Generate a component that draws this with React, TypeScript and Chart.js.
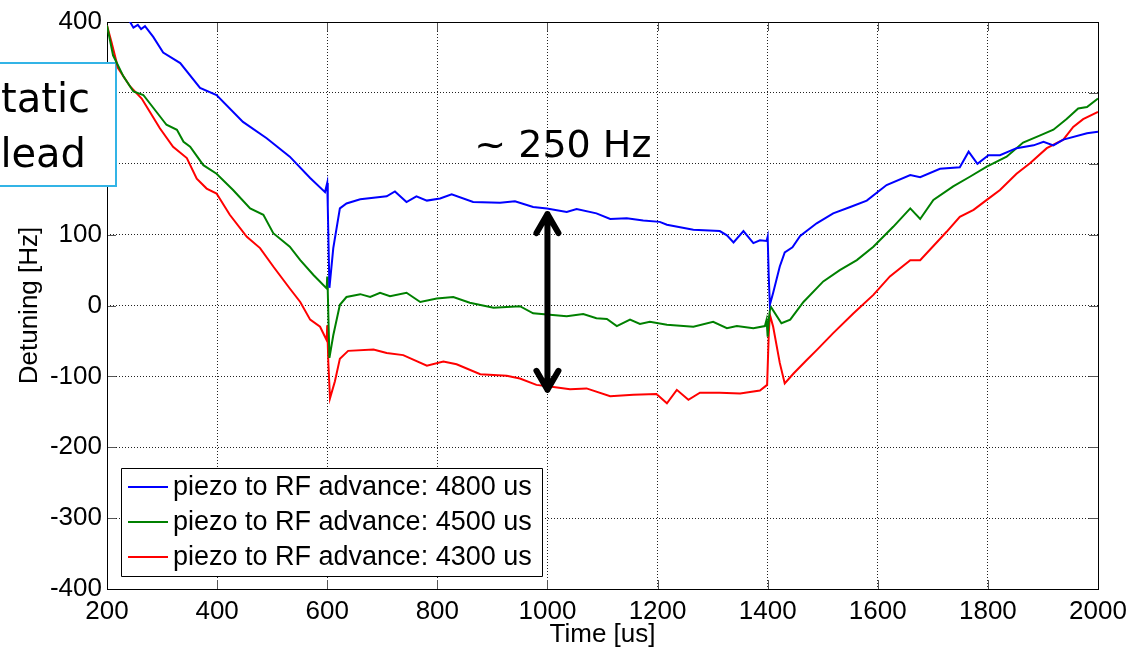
import React, { useEffect, useRef } from 'react';
import { Chart, registerables } from 'chart.js';

Chart.register(...registerables);

// ---- Data ----
const blueTime = [225, 242, 248, 256, 262, 269, 284, 302, 333, 369, 399, 447, 490, 532, 569, 596, 600, 601, 604, 611, 623, 635, 660, 708, 723, 744, 762, 781, 805, 826, 865, 914, 941, 974, 999, 1035, 1053, 1089, 1114, 1144, 1174, 1204, 1217, 1265, 1313, 1326, 1338, 1356, 1374, 1386, 1398, 1400, 1402, 1404, 1410, 1422, 1431, 1445, 1459, 1489, 1519, 1550, 1580, 1616, 1659, 1677, 1713, 1749, 1765, 1781, 1801, 1822, 1852, 1883, 1901, 1919, 1937, 1980, 2000];
const blueDetuning = [430, 400, 392, 396, 390, 394, 379, 357, 342, 307, 297, 259, 236, 210, 180, 160, 173, 140, 25, 81, 137, 144, 150, 154, 161, 146, 154, 148, 151, 157, 146, 145, 147, 139, 137, 132, 136, 130, 122, 123, 120, 118, 114, 107, 105, 99, 89, 105, 88, 92, 91, 97, 40, 1, 18, 55, 75, 82, 98, 116, 130, 139, 148, 170, 184, 181, 193, 195, 217, 200, 212, 212, 222, 226, 231, 226, 234, 243, 245];

const greenTime = [200, 211, 230, 248, 266, 290, 308, 327, 339, 351, 375, 399, 429, 460, 484, 502, 532, 551, 575, 599, 600, 601, 604, 611, 623, 635, 660, 678, 696, 714, 744, 769, 799, 829, 859, 902, 950, 974, 1035, 1065, 1089, 1108, 1126, 1150, 1168, 1186, 1217, 1265, 1301, 1326, 1344, 1374, 1395, 1398, 1400, 1402, 1405, 1425, 1441, 1465, 1501, 1531, 1562, 1592, 1628, 1659, 1677, 1701, 1737, 1768, 1798, 1834, 1864, 1895, 1919, 1943, 1964, 1980, 2000];
const greenDetuning = [395, 353, 323, 302, 297, 273, 255, 248, 231, 224, 198, 186, 163, 137, 128, 102, 83, 64, 43, 24, 41, 20, -74, -42, 1, 12, 16, 12, 18, 13, 18, 5, 10, 12, 4, -3, -1, -11, -15, -12, -18, -19, -29, -20, -26, -23, -27, -30, -23, -32, -29, -32, -29, -20, -44, -20, -1, -25, -20, 5, 34, 50, 64, 83, 111, 137, 122, 149, 168, 182, 196, 210, 230, 240, 248, 263, 278, 280, 292];

const redTime = [200, 208, 220, 242, 263, 278, 296, 320, 345, 363, 381, 399, 423, 454, 478, 502, 532, 551, 569, 587, 599, 600, 602, 605, 614, 623, 638, 684, 708, 738, 781, 811, 835, 878, 926, 950, 980, 1011, 1041, 1071, 1114, 1156, 1198, 1217, 1235, 1256, 1277, 1313, 1350, 1368, 1386, 1399, 1402, 1404, 1410, 1422, 1431, 1447, 1471, 1489, 1519, 1556, 1592, 1622, 1659, 1677, 1725, 1749, 1774, 1798, 1822, 1852, 1877, 1907, 1937, 1955, 1973, 2000];
const redDetuning = [395, 372, 335, 309, 292, 273, 250, 224, 208, 179, 165, 158, 128, 97, 81, 55, 24, 5, -20, -30, -49, -28, -80, -131, -107, -75, -64, -62, -67, -70, -85, -79, -83, -97, -99, -103, -112, -115, -118, -117, -128, -126, -125, -138, -119, -133, -123, -123, -124, -122, -120, -112, -40, -13, -30, -81, -110, -96, -77, -63, -39, -11, 15, 41, 64, 64, 104, 125, 135, 149, 163, 186, 201, 222, 234, 252, 263, 273];

const seriesLabels = [
  'piezo to RF advance: 4800 us',
  'piezo to RF advance: 4500 us',
  'piezo to RF advance: 4300 us',
];
const seriesColors = ['#0000ff', '#008000', '#ff0000'];

const xRange = [200, 2000];
const yRange = [-400, 400];
const xStep = 200;
const yStep = 100;

const annotationText = '~ 250 Hz';
const annotationAt = [1028, 210];
const arrowTime = 1000;
const arrowSpan = [129, -119];
const sideBoxLines = ['tatic', 'lead'];

const FONT = '"Liberation Sans", Arial, Helvetica, sans-serif';
const COMIC = '"Comic Sans MS", "DejaVu Sans", sans-serif';

function toPoints(xs: number[], ys: number[]) {
  return xs.map((x, i) => ({ x, y: ys[i] }));
}

const decorPlugin = {
  id: 'decor',
  beforeDatasetsDraw(chart: any) {
    const { ctx, chartArea, scales } = chart;
    const { left, right, top, bottom } = chartArea;
    const xs = scales.x;
    const ys = scales.y;
    ctx.save();
    // inward tick marks on all four sides
    ctx.strokeStyle = '#555';
    ctx.lineWidth = 1;
    ctx.beginPath();
    xs.ticks.forEach((t: any) => {
      const p = Math.round(xs.getPixelForValue(t.value)) + 0.5;
      ctx.moveTo(p, bottom);
      ctx.lineTo(p, bottom - 9);
      ctx.moveTo(p, top);
      ctx.lineTo(p, top + 9);
    });
    ys.ticks.forEach((t: any) => {
      const p = Math.round(ys.getPixelForValue(t.value)) + 0.5;
      ctx.moveTo(left, p);
      ctx.lineTo(left + 9, p);
      ctx.moveTo(right, p);
      ctx.lineTo(right - 9, p);
    });
    ctx.stroke();
    // frame
    ctx.strokeStyle = '#000';
    ctx.strokeRect(left + 0.5, top + 0.5, right - left, bottom - top);

    // side text box (partially outside the page)
    const bx1 = left + 9;
    const by1 = top + 41;
    const by2 = top + 164;
    ctx.fillStyle = '#fff';
    ctx.fillRect(-10, by1, bx1 + 10, by2 - by1);
    ctx.strokeStyle = '#33b4e6';
    ctx.lineWidth = 2;
    ctx.strokeRect(-10, by1, bx1 + 10, by2 - by1);
    ctx.fillStyle = '#000';
    ctx.font = '40px ' + COMIC;
    ctx.textAlign = 'right';
    ctx.textBaseline = 'alphabetic';
    ctx.fillText(sideBoxLines[0], bx1 - 26, top + 90);
    ctx.fillText(sideBoxLines[1], bx1 - 30, top + 145);
    ctx.restore();
  },
  afterDraw(chart: any) {
    const { ctx, chartArea, scales, data } = chart;
    const { left, bottom } = chartArea;
    const xs = scales.x;
    const ys = scales.y;
    ctx.save();

    // double-headed arrow
    const ax = xs.getPixelForValue(arrowTime);
    const yTop = ys.getPixelForValue(arrowSpan[0]);
    const yBot = ys.getPixelForValue(arrowSpan[1]);
    ctx.strokeStyle = '#000';
    ctx.lineWidth = 6;
    ctx.lineCap = 'round';
    ctx.lineJoin = 'round';
    ctx.beginPath();
    ctx.moveTo(ax, yTop);
    ctx.lineTo(ax, yBot);
    ctx.moveTo(ax - 11, yTop + 19);
    ctx.lineTo(ax, yTop);
    ctx.lineTo(ax + 11, yTop + 19);
    ctx.moveTo(ax - 11, yBot - 19);
    ctx.lineTo(ax, yBot);
    ctx.lineTo(ax + 11, yBot - 19);
    ctx.stroke();

    // annotation text
    ctx.fillStyle = '#000';
    ctx.font = '38px ' + COMIC;
    ctx.textAlign = 'center';
    ctx.textBaseline = 'alphabetic';
    ctx.fillText(annotationText, xs.getPixelForValue(annotationAt[0]), ys.getPixelForValue(annotationAt[1]));

    // legend box
    const lx = left + 14;
    const lh = 108;
    const lw = 421;
    const ly = bottom - 13 - lh;
    ctx.fillStyle = '#fff';
    ctx.fillRect(lx, ly, lw, lh);
    ctx.strokeStyle = '#000';
    ctx.lineWidth = 1;
    ctx.lineCap = 'butt';
    ctx.strokeRect(lx + 0.5, ly + 0.5, lw, lh);
    ctx.font = '27px ' + FONT;
    ctx.textAlign = 'left';
    ctx.textBaseline = 'middle';
    data.datasets.forEach((ds: any, i: number) => {
      const ry = ly + 19 + i * 35;
      ctx.strokeStyle = ds.borderColor;
      ctx.lineWidth = 2;
      ctx.beginPath();
      ctx.moveTo(lx + 7, ry);
      ctx.lineTo(lx + 47, ry);
      ctx.stroke();
      ctx.fillStyle = '#000';
      ctx.fillText(ds.label, lx + 52, ry + 1);
    });
    ctx.restore();
  },
};

export default function App() {
  const ref = useRef<HTMLCanvasElement>(null);

  useEffect(() => {
    if (!ref.current) return;
    const tickFont = { family: FONT, size: 26 };
    const chart = new Chart(ref.current, {
      type: 'line',
      data: {
        datasets: [
          { label: seriesLabels[0], data: toPoints(blueTime, blueDetuning), borderColor: seriesColors[0] },
          { label: seriesLabels[1], data: toPoints(greenTime, greenDetuning), borderColor: seriesColors[1] },
          { label: seriesLabels[2], data: toPoints(redTime, redDetuning), borderColor: seriesColors[2] },
        ].map((d) => ({ ...d, borderWidth: 2, pointRadius: 0, tension: 0, fill: false, backgroundColor: d.borderColor })),
      },
      options: {
        responsive: false,
        animation: false,
        events: [],
        layout: { padding: { top: 22, right: 39, left: 0, bottom: 0 }, autoPadding: false },
        plugins: {
          legend: { display: false },
          tooltip: { enabled: false },
        },
        scales: {
          x: {
            type: 'linear',
            min: xRange[0],
            max: xRange[1],
            ticks: { stepSize: xStep, color: '#000', font: tickFont, padding: 7, maxRotation: 0, autoSkip: false, callback: (v: any) => String(v) },
            grid: { color: '#222', lineWidth: 1, drawTicks: false },
            border: { display: false, dash: [1, 2] },
            title: { display: true, text: 'Time [us]', color: '#000', font: { family: FONT, size: 26, lineHeight: 1.2 }, padding: { top: 0, bottom: -2 } },
            afterFit: (s: any) => { s.height = 59; s.paddingLeft = 0; s.paddingRight = 0; },
          },
          y: {
            type: 'linear',
            min: yRange[0],
            max: yRange[1],
            ticks: { stepSize: yStep, color: '#000', font: tickFont, padding: 5, autoSkip: false, callback: (v: any) => String(v) },
            grid: { color: '#222', lineWidth: 1, drawTicks: false },
            border: { display: false, dash: [1, 2] },
            title: { display: true, text: 'Detuning [Hz]', color: '#000', font: { family: FONT, size: 26, lineHeight: 1.2 }, padding: { top: 14, bottom: 0 } },
            afterFit: (s: any) => { s.width = 107; s.paddingTop = 0; s.paddingBottom = 0; },
          },
        },
      } as any,
      plugins: [decorPlugin],
    });
    return () => chart.destroy();
  }, []);

  return (
    <div style={{ position: 'fixed', left: 0, top: 0, width: 1137, height: 648, background: '#fff' }}>
      <canvas ref={ref} width={1137} height={648} style={{ display: 'block' }} />
    </div>
  );
}
